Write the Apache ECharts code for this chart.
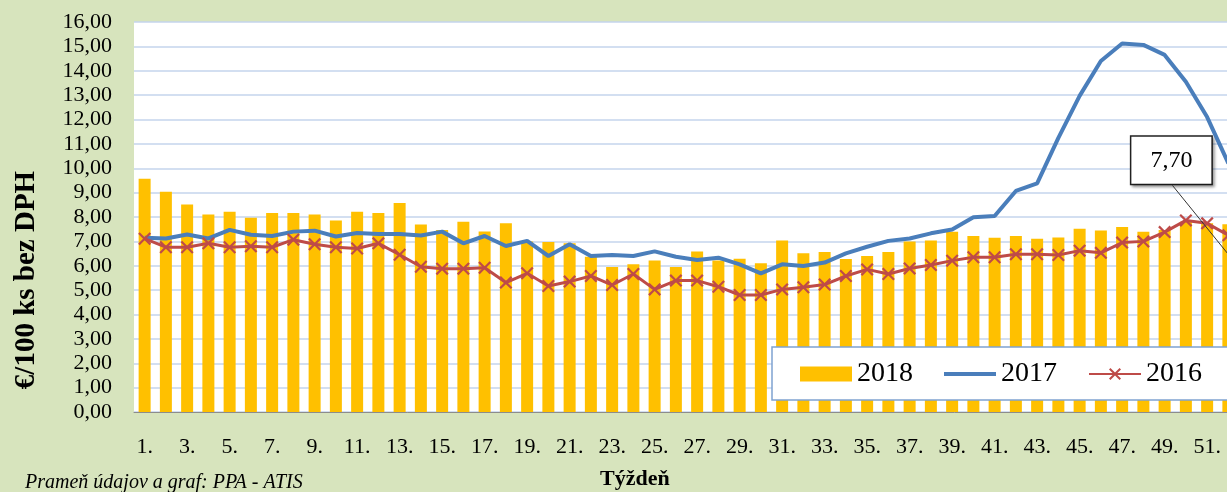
<!DOCTYPE html>
<html>
<head>
<meta charset="utf-8">
<script src="https://cdn.jsdelivr.net/npm/echarts@6/dist/echarts.min.js"></script>
<style>
html,body{margin:0;padding:0;background:#D7E4BD;}
#c{width:1227px;height:492px;}
</style>
</head>
<body>
<div id="c"></div>
<script>
var weeks = [];
for (var i = 1; i <= 52; i++) weeks.push(i + '.');

var s2018 = [9.57,9.04,8.51,8.10,8.22,7.97,8.16,8.16,8.10,7.86,8.22,8.16,8.57,7.69,7.47,7.81,7.41,7.74,6.99,6.97,
  6.92,6.37,5.95,6.06,6.22,5.95,6.58,6.22,6.29,6.10,7.04,6.51,6.56,6.28,6.40,6.56,6.99,7.04,7.40,7.22,
  7.15,7.22,7.11,7.16,7.52,7.45,7.59,7.40,7.47,7.81,7.74,7.70];
var s2017 = [7.15,7.12,7.28,7.12,7.47,7.27,7.22,7.40,7.44,7.20,7.34,7.30,7.30,7.24,7.40,6.92,7.22,6.81,7.02,6.40,
  6.88,6.40,6.44,6.40,6.59,6.37,6.24,6.33,6.06,5.69,6.06,5.99,6.13,6.51,6.78,7.02,7.12,7.33,7.49,7.99,
  8.04,9.07,9.38,11.25,12.97,14.40,15.12,15.06,14.65,13.55,12.10,10.20];
var s2016 = [7.11,6.76,6.76,6.92,6.76,6.80,6.76,7.07,6.88,6.76,6.71,6.92,6.45,5.96,5.88,5.88,5.92,5.31,5.69,5.17,
  5.35,5.58,5.21,5.66,5.03,5.39,5.39,5.14,4.80,4.80,5.03,5.12,5.23,5.58,5.85,5.66,5.89,6.03,6.21,6.35,
  6.35,6.47,6.47,6.44,6.62,6.53,6.95,7.00,7.38,7.86,7.74,7.25];
var seriesNames = ['2018', '2017', '2016'];
var labelledIndex = 51;

var FONT = 'Liberation Serif';
function fmt(v){ return Number(v).toFixed(2).replace('.', ','); }

var barData = s2018.map(function(v, i){
  if (i !== labelledIndex) return v;
  return {
    value: v,
    label: {
      show: true, position: 'top',
      formatter: function(p){ return fmt(p.value); },
      fontFamily: FONT, fontSize: 24, color: '#000',
      backgroundColor: '#fff', borderColor: '#222', borderWidth: 1.5,
      padding: [12, 19, 11, 19],
      shadowColor: 'rgba(0,0,0,0.35)', shadowBlur: 3, shadowOffsetX: 2, shadowOffsetY: 2
    }
  };
});

var xIcon = 'path://M0,1.2 L1.2,0 L5,3.8 L8.8,0 L10,1.2 L6.2,5 L10,8.8 L8.8,10 L5,6.2 L1.2,10 L0,8.8 L3.8,5 Z';
var lineIcon = 'path://M0,0 L0.01,0 L0,0.01 Z M0,5.5 L52,5.5 L52,9.5 L0,9.5 Z M52,15 L51.99,15 L52,14.99 Z';

var yName = { id: 'yname', type: 'text', x: 27, y: 280, rotation: Math.PI / 2,
  style: { text: '€/100 ks bez DPH', font: 'bold 29px "Liberation Serif"', fill: '#000',
           textAlign: 'center', textVerticalAlign: 'middle' } };

var option = {
  backgroundColor: '#D7E4BD',
  animation: false,
  textStyle: { fontFamily: FONT },
  title: [
    { text: 'Týždeň', left: 600, top: 468, padding: 0,
      textStyle: { fontFamily: FONT, fontWeight: 'bold', fontSize: 22, color: '#000' } },
    { text: 'Prameň údajov a graf: PPA - ATIS', left: 25, top: 473, padding: 0,
      textStyle: { fontFamily: FONT, fontStyle: 'italic', fontWeight: 'normal', fontSize: 20, color: '#000' } }
  ],
  graphic: [ yName ],
  legend: {
    left: 772, top: 347, width: 470,
    data: [
      { name: '2018', icon: 'rect' },
      { name: '2017', icon: lineIcon },
      { name: '2016' }
    ],
    itemWidth: 52, itemHeight: 15, itemGap: 31,
    backgroundColor: '#fff', borderColor: '#7FA3D1', borderWidth: 1.5,
    padding: [13, 30, 12, 28],
    textStyle: { fontFamily: FONT, fontSize: 28, color: '#000' }
  },
  grid: { left: 134, top: 22, right: -12, height: 390, outerBoundsMode: 'none',
          show: true, backgroundColor: '#fff', borderWidth: 0 },
  xAxis: {
    type: 'category', data: weeks, boundaryGap: true,
    axisLine: { show: true, lineStyle: { color: '#8C8C8C', width: 1 } },
    axisTick: { show: false },
    axisLabel: { interval: 1, margin: 24, fontFamily: FONT, fontSize: 22, color: '#000' },
    splitLine: { show: false }
  },
  yAxis: {
    type: 'value', min: 0, max: 16, interval: 1,
    axisLine: { show: false }, axisTick: { show: false },
    axisLabel: { margin: 22, fontFamily: FONT, fontSize: 22, color: '#000', formatter: fmt },
    splitLine: { show: true, lineStyle: { color: '#C4D5EC', width: 1.5 } }
  },
  series: [
    { name: seriesNames[0], type: 'bar', data: barData, barWidth: 12,
      itemStyle: { color: '#FFC000' },
      labelLayout: function(p){
        if (p.dataIndex !== labelledIndex) return {};
        var r = p.rect, cx = r.x + r.width / 2;
        return { x: cx - 57, y: r.y - 64, align: 'center', verticalAlign: 'middle' };
      }
    },
    { name: seriesNames[1], type: 'line', data: s2017, showSymbol: false, symbol: 'none',
      lineStyle: { color: '#4A7EBB', width: 4 }, itemStyle: { color: '#4A7EBB' }, z: 3 },
    { name: seriesNames[2], type: 'line', data: s2016, symbol: xIcon, symbolSize: 13, showSymbol: true,
      lineStyle: { color: '#BE4B48', width: 3 }, itemStyle: { color: '#BE4B48' }, z: 4 }
  ]
};

var chart = echarts.init(document.getElementById('c'), null, {renderer: 'canvas'});
chart.setOption(option);

// leader line from the data label box to its bar, placed through the chart's own scales
var barTopPx = chart.convertToPixel({ gridIndex: 0 }, [labelledIndex, s2018[labelledIndex]]);
if (barTopPx && isFinite(barTopPx[0]) && isFinite(barTopPx[1])) {
  var px = barTopPx[0], py = barTopPx[1];
  chart.setOption({
    graphic: [
      yName,
      { id: 'leader', type: 'line', z: 100,
        shape: { x1: px - 56, y1: py - 39, x2: px + 8, y2: py + 40 },
        style: { stroke: '#333', lineWidth: 1 } }
    ]
  });
}
</script>
</body>
</html>
